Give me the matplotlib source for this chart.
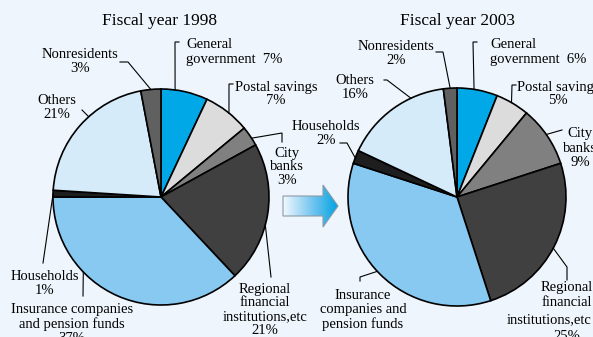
import numpy as np
import matplotlib.pyplot as plt
from matplotlib.patches import Polygon
from matplotlib.colors import LinearSegmentedColormap

# -------------------------------
# Data
# -------------------------------
W, H = 593, 337
sectors = ["General government", "Postal savings", "City banks",
           "Regional financial institutions,etc",
           "Insurance companies and pension funds",
           "Households", "Others", "Nonresidents"]
share_1998 = [7, 7, 3, 21, 37, 1, 21, 3]
share_2003 = [6, 5, 9, 25, 35, 2, 16, 2]
colors = ["#00a8e8", "#dcdcdc", "#808080", "#404040",
          "#88c9f1", "#1e1e1e", "#d5ebfa", "#606060"]
titles = ["Fiscal year 1998", "Fiscal year 2003"]

plt.rcParams["font.family"] = ["Liberation Serif", "DejaVu Serif"]
BG = "#eef5fc"

fig = plt.figure(figsize=(W / 100, H / 100), dpi=100, facecolor=BG)
ax = fig.add_axes([0, 0, 1, 1])
ax.set_facecolor(BG)

# pixel-like coordinates, y pointing down
centers = [(161, 197), (457, 197)]
R = [108, 109]

for (cx, cy), r, vals in zip(centers, R, [share_1998, share_2003]):
    # y axis is inverted: startangle -90 is the top, counterclock=True reads clockwise
    ax.pie(vals, colors=colors, center=(cx, cy), radius=r, startangle=-90,
           counterclock=True, frame=True,
           wedgeprops=dict(edgecolor="black", linewidth=1.2))

ax.set_xlim(0, W)
ax.set_ylim(H, 0)
ax.set_aspect("equal")
ax.axis("off")


def edge(i, ang):
    # point on pie i rim at a visual angle (deg, counterclockwise from 3 o'clock)
    cx, cy = centers[i]
    a = np.deg2rad(ang)
    return cx + R[i] * np.cos(a), cy - R[i] * np.sin(a)


def leader(pts, i, ang):
    end = edge(i, ang)
    xs = [p[0] for p in pts] + [end[0]]
    ys = [p[1] for p in pts] + [end[1]]
    ax.plot(xs, ys, color="black", lw=0.8, solid_joinstyle="miter")


fs = 10.5
def lab(x, y, s, ha="center", **kw):
    ax.text(x, y, s, ha=ha, va="center", fontsize=fs, linespacing=1.1,
            multialignment=ha, **kw)


# titles
ax.text(160, 21, titles[0], ha="center", va="center", fontsize=12.5)
ax.text(457, 21, titles[1], ha="center", va="center", fontsize=12.5)

# ---- 1998 labels
lab(80, 61, "Nonresidents\n3%")
leader([(120, 62), (128, 62)], 0, 95.4)
lab(186, 52, "General\ngovernment  7%", ha="left")
leader([(179, 42), (175, 42)], 0, 82.5)
lab(276, 94, "Postal savings\n7%")
leader([(233, 84), (229, 84)], 0, 51)
lab(287, 167, "City\nbanks\n3%")
leader([(282, 142), (282, 133)], 0, 33)
lab(265, 310, "Regional\nfinancial\ninstitutions,etc\n21%")
leader([(271, 277)], 0, -15)
lab(45, 283, "Households\n1%")
leader([(43, 263)], 0, 178.5)
lab(72, 324, "Insurance companies\nand pension funds\n37%")
leader([(83, 296)], 0, -136)
lab(57, 108, "Others\n21%")
leader([(82, 110)], 0, 132)

# ---- 2003 labels
lab(396, 53, "Nonresidents\n2%")
leader([(436, 52), (443, 52)], 1, 93.6)
lab(490, 52, "General\ngovernment  6%", ha="left")
leader([(477, 42), (473, 42)], 1, 81)
lab(558, 94, "Postal savings\n5%")
leader([(516, 85), (512, 85)], 1, 60)
lab(580, 148, "City\nbanks\n9%")
leader([(562, 130)], 1, 35)
lab(567, 295, "Regional\nfinancial")
lab(507, 320, "institutions,etc", ha="left")
lab(567, 337, "25%")
leader([(567, 280), (567, 267)], 1, -28)
lab(363, 310, "Insurance\ncompanies and\npension funds")
leader([(360, 281), (360, 277)], 1, -137)
lab(326, 134, "Households\n2%")
leader([(340, 143), (347, 143)], 1, 159)
lab(355, 87, "Others\n16%")
leader([(384, 80), (387, 80)], 1, 115)

# ---- gradient arrow between the pies
arrow = Polygon([(283, 196), (323, 196), (323, 185), (338, 206),
                 (323, 227), (323, 216), (283, 216)], closed=True,
                facecolor="none", edgecolor="#8a9aa6", lw=0.8, zorder=4)
ax.add_patch(arrow)
cmap = LinearSegmentedColormap.from_list("arr", ["#f2f9fe", "#7cc8f0", "#00a3e3"])
im = ax.imshow(np.linspace(0, 1, 256).reshape(1, -1), cmap=cmap,
               extent=[283, 338, 227, 185], aspect="auto", zorder=3)
im.set_clip_path(arrow)
ax.set_xlim(0, W)
ax.set_ylim(H, 0)

fig.savefig("out.png", dpi=100, facecolor=BG)
